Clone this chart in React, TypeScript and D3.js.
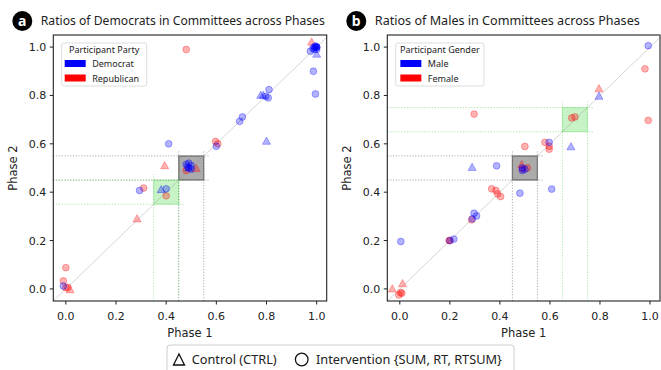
import React from 'react';
import * as d3 from 'd3';

type P = [number, number];

// Panel a: party ratios
const demCircles: P[] = [
  [1.0, 1.0], [0.99, 1.0], [1.0, 0.99], [0.995, 1.005], [0.985, 0.995], [1.0, 1.0],
  [0.99, 0.99], [0.975, 0.983], [1.0, 1.0], [0.995, 1.0], [0.987, 0.9], [0.995, 0.806],
  [0.797, 0.796], [0.807, 0.79], [0.81, 0.824], [0.704, 0.711], [0.693, 0.693],
  [0.6, 0.59], [0.41, 0.6], [0.48, 0.515], [0.49, 0.52], [0.5, 0.51], [0.49, 0.5],
  [0.5, 0.495], [0.485, 0.505], [0.4, 0.414], [0.294, 0.407], [-0.01, 0.012],
];
const demTriangles: P[] = [
  [1.0, 0.97], [0.777, 0.8], [0.787, 0.8], [0.8, 0.61], [0.38, 0.41], [0.49, 0.5],
];
const repCircles: P[] = [
  [0.48, 0.99], [0.597, 0.61], [0.606, 0.6], [0.48, 0.49], [0.4, 0.385], [0.31, 0.417],
  [0.0, 0.088], [-0.01, 0.033], [0.0, 0.005], [0.008, 0.006],
];
const repTriangles: P[] = [
  [0.98, 1.02], [0.394, 0.509], [0.52, 0.497], [0.284, 0.289], [0.017, -0.004],
];

// Panel b: gender ratios
const maleCircles: P[] = [
  [0.993, 1.006], [0.597, 0.606], [0.49, 0.49], [0.49, 0.5], [0.5, 0.495], [0.387, 0.509],
  [0.48, 0.396], [0.607, 0.413], [0.297, 0.313], [0.307, 0.302], [0.29, 0.29], [0.2, 0.2],
  [0.216, 0.206], [0.004, 0.196],
];
const maleTriangles: P[] = [[0.796, 0.796], [0.684, 0.587], [0.289, 0.502]];
const femaleCircles: P[] = [
  [0.297, 0.723], [0.98, 0.91], [0.993, 0.697], [0.687, 0.707], [0.7, 0.711], [0.5, 0.589],
  [0.58, 0.606], [0.597, 0.59], [0.597, 0.578], [0.49, 0.496], [0.51, 0.5], [0.367, 0.414],
  [0.384, 0.407], [0.391, 0.393], [0.403, 0.382], [0.287, 0.286], [0.2, 0.2], [0.197, 0.2],
  [0.003, -0.015], [-0.004, -0.025], [0.008, -0.018],
];
const femaleTriangles: P[] = [[0.796, 0.827], [0.487, 0.513], [-0.03, -0.001], [0.011, 0.021]];

const ticks = [0, 0.2, 0.4, 0.6, 0.8, 1.0];

const BLUE = '#0000ff';
const RED = '#ff0000';
const TICKFONT = 'DejaVu Sans';
const TEXTFONT = 'Noto Sans';

interface PanelProps {
  left: number; right: number; top: number; bottom: number;
  letter: string; title: string; titleLen: number;
  legendTitle: string; legendLabels: [string, string];
  legendBox: { x: number; w: number };
  blueC: P[]; blueT: P[]; redC: P[]; redT: P[];
  gray: [number, number]; green: [number, number];
}

function tri(cx: number, cy: number, s: number) {
  const h = s * 0.9;
  return `M${cx},${cy - h * 0.6}L${cx + s / 2},${cy + h * 0.4}L${cx - s / 2},${cy + h * 0.4}Z`;
}

function Panel(p: PanelProps) {
  const x = d3.scaleLinear().domain([-0.05, 1.04]).range([p.left, p.right]);
  const y = d3.scaleLinear().domain([-0.05, 1.05]).range([p.bottom, p.top]);
  const guide = (r: [number, number], color: string, op: number, key: string) => {
    const [lo, hi] = r;
    const ext = hi + 0.025;
    return (
      <g key={key} stroke={color} strokeOpacity={op} strokeWidth={0.9} strokeDasharray="1.2,1.6">
        {[lo, hi].map((v) => (
          <line key={'v' + v} x1={x(v)} x2={x(v)} y1={p.bottom} y2={y(ext)} />
        ))}
        {[lo, hi].map((v) => (
          <line key={'h' + v} x1={p.left} x2={x(ext)} y1={y(v)} y2={y(v)} />
        ))}
      </g>
    );
  };
  const box = (r: [number, number], fill: string, fop: number, stroke: string, sop: number) => (
    <rect x={x(r[0])} y={y(r[1])} width={x(r[1]) - x(r[0])} height={y(r[0]) - y(r[1])}
      fill={fill} fillOpacity={fop} stroke={stroke} strokeOpacity={sop} strokeWidth={1.3} />
  );
  const circles = (data: P[], c: string) =>
    data.map((d, i) => (
      <circle key={c + 'c' + i} cx={x(d[0])} cy={y(d[1])} r={3.4} fill={c} fillOpacity={0.3}
        stroke={c} strokeOpacity={0.3} strokeWidth={1} />
    ));
  const triangles = (data: P[], c: string) =>
    data.map((d, i) => (
      <path key={c + 't' + i} d={tri(x(d[0]), y(d[1]), 8)} fill={c} fillOpacity={0.3}
        stroke={c} strokeOpacity={0.3} strokeWidth={1} />
    ));
  const lb = p.legendBox;
  return (
    <g>
      <circle cx={p.left - 31} cy={21} r={10} fill="#000" />
      <text x={p.left - 31} y={25.5} textAnchor="middle" fill="#fff" fontFamily={TEXTFONT}
        fontWeight="bold" fontSize={14}>{p.letter}</text>
      <text x={p.left - 12.5} y={25} fontFamily={TEXTFONT} fontSize={13} fill="#222"
        textLength={p.titleLen} lengthAdjust="spacingAndGlyphs">{p.title}</text>

      {box(p.gray, '#000', 0.33, '#000', 0.4)}
      {box(p.green, '#00c800', 0.22, '#00c800', 0.15)}
      {guide(p.gray, '#666', 0.6, 'g1')}
      {guide(p.green, '#33cc33', 0.45, 'g2')}
      <line x1={x(-0.05)} y1={y(-0.05)} x2={x(1.04)} y2={y(1.04)} stroke="#999" strokeOpacity={0.6} strokeWidth={0.7} />

      {circles(p.redC, RED)}
      {triangles(p.redT, RED)}
      {circles(p.blueC, BLUE)}
      {triangles(p.blueT, BLUE)}

      <rect x={p.left} y={p.top} width={p.right - p.left} height={p.bottom - p.top} fill="none" stroke="#222" strokeWidth={1.1} />

      {ticks.map((t) => (
        <g key={'x' + t}>
          <line x1={x(t)} x2={x(t)} y1={p.bottom} y2={p.bottom + 3.5} stroke="#222" />
          <text x={x(t)} y={319.5} textAnchor="middle" fontFamily={TICKFONT} fontSize={11} fill="#222">{t.toFixed(1)}</text>
        </g>
      ))}
      {ticks.map((t) => (
        <g key={'y' + t}>
          <line x1={p.left - 3.5} x2={p.left} y1={y(t)} y2={y(t)} stroke="#222" />
          <text x={p.left - 7} y={y(t) + 4} textAnchor="end" fontFamily={TICKFONT} fontSize={11} fill="#222">{t.toFixed(1)}</text>
        </g>
      ))}
      <text x={(p.left + p.right) / 2} y={337} textAnchor="middle" fontFamily={TICKFONT} fontSize={11.5} fill="#222">Phase 1</text>
      <text transform={`translate(${p.left - 36},${(p.top + p.bottom) / 2}) rotate(-90)`} textAnchor="middle"
        fontFamily={TICKFONT} fontSize={11.5} fill="#222">Phase 2</text>

      <rect x={lb.x} y={43} width={lb.w} height={43} rx={2} fill="#fff" fillOpacity={0.85} stroke="#ddd" />
      <text x={lb.x + lb.w / 2} y={53} textAnchor="middle" fontFamily={TEXTFONT} fontSize={9} fill="#222">{p.legendTitle}</text>
      <rect x={lb.x + (lb.w - 84) / 2 + 2.5} y={60} width={21} height={7} fill={BLUE} />
      <rect x={lb.x + (lb.w - 84) / 2 + 2.5} y={74.5} width={21} height={7} fill={RED} />
      <text x={lb.x + (lb.w - 84) / 2 + 30} y={67} fontFamily={TEXTFONT} fontSize={9} fill="#222">{p.legendLabels[0]}</text>
      <text x={lb.x + (lb.w - 84) / 2 + 30} y={81.5} fontFamily={TEXTFONT} fontSize={9} fill="#222">{p.legendLabels[1]}</text>
    </g>
  );
}

export default function App() {
  return (
    <svg width={661} height={370} style={{ position: 'absolute', left: 0, top: 0, background: '#fff' }}>
      <rect width={661} height={370} fill="#fff" />
      <Panel left={53.3} right={326.7} top={35} bottom={301} letter="a"
        title="Ratios of Democrats in Committees across Phases" titleLen={284}
        legendTitle="Participant Party" legendLabels={['Democrat', 'Republican']}
        legendBox={{ x: 61.7, w: 85 }}
        blueC={demCircles} blueT={demTriangles} redC={repCircles} redT={repTriangles}
        gray={[0.45, 0.55]} green={[0.35, 0.45]} />
      <Panel left={387.3} right={660} top={35} bottom={301} letter="b"
        title="Ratios of Males in Committees across Phases" titleLen={265}
        legendTitle="Participant Gender" legendLabels={['Male', 'Female']}
        legendBox={{ x: 395.7, w: 88.3 }}
        blueC={maleCircles} blueT={maleTriangles} redC={femaleCircles} redT={femaleTriangles}
        gray={[0.45, 0.55]} green={[0.65, 0.75]} />

      <rect x={167} y={345} width={347} height={35} rx={3} fill="#fff" stroke="#ccc" />
      <path d="M173.5,365L179,354L184.5,365Z" fill="none" stroke="#111" strokeWidth={1.3} />
      <text x={191.7} y={363.5} fontFamily={TEXTFONT} fontSize={12} fill="#222"
        textLength={85} lengthAdjust="spacingAndGlyphs">Control (CTRL)</text>
      <circle cx={301.7} cy={359.5} r={6.3} fill="none" stroke="#111" strokeWidth={1.3} />
      <text x={316} y={363.5} fontFamily={TEXTFONT} fontSize={12} fill="#222"
        textLength={186} lengthAdjust="spacingAndGlyphs">Intervention {'{SUM, RT, RTSUM}'}</text>
    </svg>
  );
}
